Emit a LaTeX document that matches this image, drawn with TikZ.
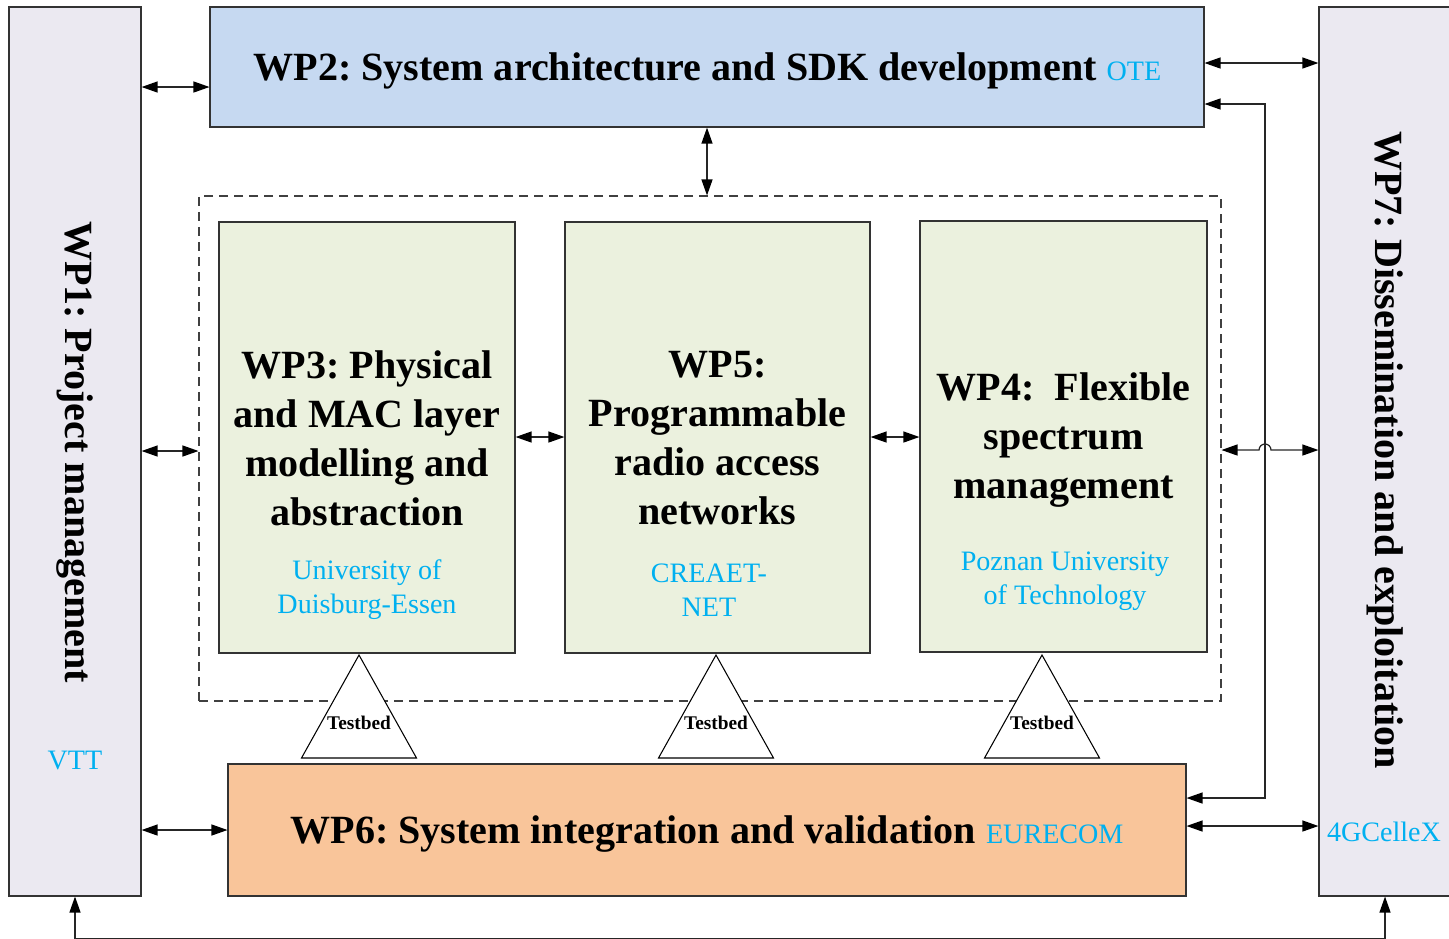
\documentclass[tikz,border=0pt]{standalone}
\usepackage{fontspec}
\setmainfont{Liberation Serif}
\usetikzlibrary{arrows.meta}
\frenchspacing

\definecolor{wpblue}{HTML}{00B0F0}
\definecolor{sidegray}{HTML}{EBE9F1}
\definecolor{archblue}{HTML}{C6D9F1}
\definecolor{taskgreen}{HTML}{EBF1DE}
\definecolor{integorange}{HTML}{F9C59A}

\newcommand{\orgfont}{\fontsize{16}{19.4}\selectfont\mdseries\color{wpblue}}

\tikzset{
  wpbox/.style={draw=black!80,line width=0.7pt,inner sep=0pt},
  title/.style={align=center,font=\fontsize{22.8}{27.9}\selectfont\bfseries},
  partner/.style={align=center,font=\orgfont},
  link/.style={{Triangle[length=0.32cm,width=0.22cm,black]}-{Triangle[length=0.32cm,width=0.22cm,black]},line width=0.7pt,draw=black!85},
  testbed/.style={font=\fontsize{11}{13}\selectfont\bfseries,inner sep=0pt}
}

\begin{document}
\begin{tikzpicture}[x=0.02cm,y=-0.02cm]
\useasboundingbox (0,0) rectangle (1449,938);

% side boxes
\node[wpbox,fill=sidegray,minimum width=2.64cm,minimum height=17.78cm] (wp1) at (75,451.5) {};
\node[title,rotate=-90] (wp1t) at (75,452) {WP1: Project management};
\node[partner] (vtt) at (75,760) {VTT};
\node[wpbox,fill=sidegray,minimum width=2.64cm,minimum height=17.78cm] (wp7) at (1385,451.5) {};
\node[title,rotate=-90] (wp7t) at (1385,450) {WP7: Dissemination and exploitation};
\node[partner] (cellex) at (1384,832) {4GCelleX};

% top and bottom boxes
\node[wpbox,fill=archblue,minimum width=19.88cm,minimum height=2.4cm] (wp2) at (707,67) {};
\node[title] (wp2t) at (707.5,71) {WP2: System architecture and SDK development {\orgfont OTE}};
\node[wpbox,fill=integorange,minimum width=19.16cm,minimum height=2.64cm] (wp6) at (707,830) {};
\node[title] (wp6t) at (707,834) {WP6: System integration and validation {\orgfont EURECOM}};

% technical work packages
\node[draw=black!75,line width=0.7pt,dash pattern=on 0.18cm off 0.12cm,minimum width=20.44cm,minimum height=10.1cm] (frame) at (710,448.5) {};
\node[wpbox,fill=taskgreen,minimum width=5.92cm,minimum height=8.62cm] (wp3) at (367,437.5) {};
\node[wpbox,fill=taskgreen,minimum width=6.1cm,minimum height=8.62cm] (wp5) at (717.5,437.5) {};
\node[wpbox,fill=taskgreen,minimum width=5.74cm,minimum height=8.62cm] (wp4) at (1063.5,436.5) {};
\node[title] (wp3t) at (367,438.5) {WP3: Physical\\and MAC layer\\modelling and\\abstraction};
\node[partner] (ude) at (367,590) {University of\\Duisburg-Essen};
\node[title] (wp5t) at (717.5,438.5) {WP5:\\Programmable\\radio access\\networks};
\node[partner] (creaet) at (709,590) {CREAET-\\NET};
\node[title] (wp4t) at (1063.5,440) {WP4:~~Flexible\\spectrum\\management};
\node[partner] (put) at (1065,581) {Poznan University\\of Technology};

% testbeds
\foreach \x/\n in {359/3,716/5,1042/4} {
  \draw[fill=white,line width=0.6pt] (\x,655) -- (\x+57.5,758) -- (\x-57.5,758) -- cycle;
  \node[testbed] (tb\n) at (\x,723) {Testbed};
}

% links
\draw[link] (wp1.east |- 0,87) -- (wp2.west |- 0,87);
\draw[link] (wp1.east |- 0,451) -- (frame.west |- 0,451);
\draw[link] (wp1.east |- wp6.west) -- (wp6.west);
\draw[link] (wp2.south) -- (wp2.south |- frame.north);
\draw[link] (wp3.east |- 0,437) -- (wp5.west |- 0,437);
\draw[link] (wp5.east |- 0,437) -- (wp4.west |- 0,437);
\draw[link] (wp2.east |- 0,63) -- (wp7.west |- 0,63);
\draw[link] (wp6.east |- 0,798) -| (1265,104) -- (wp2.east |- 0,104);
\draw[link] (frame.east |- 0,450) -- (1259,450) arc[start angle=180,end angle=360,radius=6] -- (wp7.west |- 0,450);
\draw[link] (wp6.east |- 0,826) -- (wp7.west |- 0,826);
\draw[link] (wp1.south) -- (75,938.2) -| (wp7.south);
\end{tikzpicture}
\end{document}
